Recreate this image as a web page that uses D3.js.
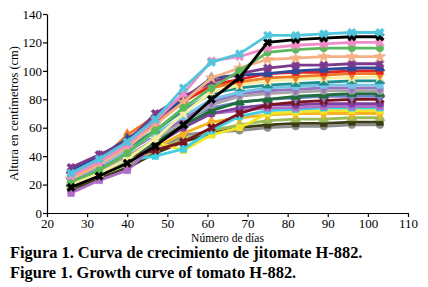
<!DOCTYPE html>
<html>
<head>
<meta charset="utf-8">
<script src="https://cdn.jsdelivr.net/npm/d3@7"></script>
<style>
  body { margin: 0; background: #fff; }
  text { font-family: "Liberation Serif", "Times New Roman", serif; }
</style>
</head>
<body>
<div id="chart-area"></div>
<script>
// days of measurement
var days = [26, 33, 40, 47, 54, 61, 68, 75, 82, 89, 96, 103];
var xTicks = [20, 30, 40, 50, 60, 70, 80, 90, 100, 110];
var yTicks = [0, 20, 40, 60, 80, 100, 120, 140];

// plant heights (cm), one array per plant
var p01 = [28, 38, 50, 66, 88, 106, 112, 125, 125, 126, 127, 127];
var p02 = [18, 26, 35, 47, 62, 80, 95, 120, 122, 123, 124, 124];
var p03 = [26, 36, 48, 65, 84, 107, 110, 116, 118, 119, 120, 120];
var p04 = [22, 30, 42, 58, 74, 88, 100, 113, 115, 116, 116, 116];
var p05 = [24, 34, 46, 62, 78, 95, 102, 108, 109, 110, 110, 110];
var p06 = [32, 41, 50, 70, 82, 92, 98, 102, 104, 104, 105, 105];
var p07 = [30, 40, 52, 66, 80, 95, 97, 98, 100, 101, 102, 102];
var p08 = [27, 37, 50, 63, 78, 90, 94, 98, 99, 99, 100, 100];
var p09 = [25, 36, 55, 68, 80, 88, 92, 95, 96, 97, 98, 98];
var p10 = [20, 28, 38, 52, 70, 85, 90, 93, 94, 95, 95, 96];
var p11 = [26, 35, 46, 58, 72, 84, 88, 90, 91, 92, 93, 93];
var p12 = [24, 33, 44, 56, 68, 80, 85, 88, 89, 90, 90, 90];
var p13 = [23, 32, 43, 55, 66, 78, 84, 86, 87, 88, 88, 88];
var p14 = [22, 30, 40, 52, 64, 76, 82, 84, 85, 86, 86, 86];
var p15 = [21, 29, 38, 50, 62, 72, 78, 80, 82, 83, 84, 84];
var p16 = [25, 34, 45, 55, 65, 74, 78, 80, 81, 82, 82, 82];
var p17 = [22, 30, 40, 44, 50, 60, 70, 76, 78, 79, 80, 80];
var p18 = [20, 28, 38, 48, 60, 70, 74, 76, 76, 77, 77, 77];
var p19 = [14, 23, 30, 48, 63, 70, 72, 74, 74, 75, 75, 75];
var p20 = [19, 27, 36, 50, 44, 55, 60, 70, 71, 72, 72, 72];
var p21 = [18, 26, 36, 46, 56, 64, 67, 69, 70, 70, 70, 70];
var p22 = [20, 27, 34, 44, 52, 58, 62, 65, 66, 66, 67, 67];
var p23 = [17, 24, 32, 42, 50, 56, 60, 62, 63, 63, 64, 64];
var p24 = [16, 24, 31, 43, 55, 57, 58, 60, 61, 61, 62, 62];
var p25 = [21, 29, 37, 40, 45, 58, 68, 72, 73, 74, 74, 74];

var plants = [p24, p23, p22, p21, p20, p25, p19, p18, p17, p16, p15, p14, p13,
              p12, p11, p10, p09, p08, p07, p06, p05, p04, p03, p02, p01];
var colors = ["#8c8c8c", "#3d3d14", "#9bbb59", "#f5b323", "#f2e52a", "#3fcfe0",
              "#b06cc6", "#7e3f9e", "#7a1424", "#7181c4", "#1f6e3c", "#a6a6a6",
              "#9a72c2", "#74c6e6", "#1f8f90", "#f7eea2", "#f07a24", "#e3241f",
              "#2f4a9c", "#7c3a8e", "#f4b183", "#5cb85c", "#f08cc8", "#000000", "#4fc6dc"];
var shapes = [d3.symbolCircle, d3.symbolSquare, d3.symbolTriangle, d3.symbolDiamond,
              d3.symbolSquare, d3.symbolSquare, d3.symbolSquare, d3.symbolCircle,
              d3.symbolCross, d3.symbolDiamond, d3.symbolTriangle, d3.symbolCircle,
              d3.symbolDiamond, d3.symbolSquare, d3.symbolTriangle, d3.symbolStar,
              d3.symbolDiamond, d3.symbolSquare, d3.symbolTriangle, d3.symbolCross,
              d3.symbolStar, d3.symbolCircle, d3.symbolCross, d3.symbolCross, d3.symbolCross];

var width = 428, height = 287;
var margin = {top: 14, right: 20, bottom: 74, left: 47};

var svg = d3.select("#chart-area").append("svg")
    .attr("width", width)
    .attr("height", height);

var x = d3.scaleLinear().domain([20, 110]).range([margin.left, width - margin.right]);
var y = d3.scaleLinear().domain([0, 140]).range([height - margin.bottom, margin.top]);

var line = d3.line()
    .x(function(d, i) { return x(days[i]); })
    .y(function(d) { return y(d); });

var g = svg.append("g");
plants.forEach(function(p, k) {
  g.append("path")
    .attr("d", line(p))
    .attr("fill", "none")
    .attr("stroke", colors[k])
    .attr("stroke-width", 2.8);
  g.selectAll(null)
    .data(p)
    .enter()
    .append("path")
    .attr("transform", function(d, i) {
      var rot = shapes[k] === d3.symbolCross ? " rotate(45)" : "";
      return "translate(" + x(days[i]) + "," + y(d) + ")" + rot;
    })
    .attr("d", d3.symbol().type(shapes[k]).size(44))
    .attr("fill", colors[k])
    .attr("stroke", colors[k])
    .attr("stroke-width", 0.6);
});

var xAxis = svg.append("g")
    .attr("transform", "translate(0," + y(0) + ")")
    .call(d3.axisBottom(x).tickValues(xTicks).tickSize(4).tickSizeOuter(0));
var yAxis = svg.append("g")
    .attr("transform", "translate(" + x(20) + ",0)")
    .call(d3.axisLeft(y).tickValues(yTicks).tickSize(4).tickSizeOuter(0));

[xAxis, yAxis].forEach(function(a) {
  a.select(".domain").attr("stroke", "#000").attr("stroke-width", 1.2);
  a.selectAll(".tick line").attr("stroke", "#000").attr("stroke-width", 1.2);
  a.selectAll("text").attr("fill", "#000").style("font-size", "13px")
    .style("font-family", "'Liberation Serif', serif");
});
xAxis.selectAll("text").attr("y", 5).attr("dy", "0.75em");
yAxis.selectAll("text").attr("x", -5);

svg.append("text")
    .attr("x", (x(20) + x(110)) / 2)
    .attr("y", 242)
    .attr("text-anchor", "middle")
    .style("font-size", "11.5px")
    .text("Número de días");

svg.append("text")
    .attr("transform", "rotate(-90)")
    .attr("x", -(y(0) + y(140)) / 2)
    .attr("y", 18)
    .attr("text-anchor", "middle")
    .style("font-size", "12.5px")
    .text("Altura en centímetros (cm)");

svg.append("text")
    .attr("x", 10)
    .attr("y", 258)
    .style("font-size", "16.4px")
    .style("font-weight", "bold")
    .text("Figura 1. Curva de crecimiento de jitomate H-882.");

svg.append("text")
    .attr("x", 10)
    .attr("y", 278)
    .style("font-size", "16.4px")
    .style("font-weight", "bold")
    .text("Figure 1. Growth curve of tomato H-882.");
</script>
</body>
</html>
